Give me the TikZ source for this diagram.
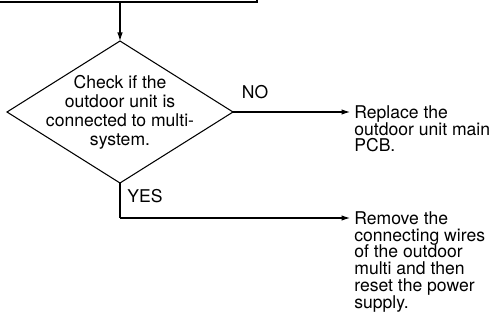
\documentclass[tikz,border=0pt]{standalone}
\usepackage{fontspec}
\setmainfont{TeX Gyre Heros}
\usetikzlibrary{shapes.geometric, arrows.meta, positioning}

\begin{document}
\begin{tikzpicture}[
    decision/.style={inner sep=0pt, align=center,
                     font=\fontsize{10}{10.8}\selectfont},
    outcome/.style={anchor=north west, inner sep=0pt, align=left,
                    font=\fontsize{10}{9.6}\selectfont},
    edge/.style={line width=0.6pt},
    flow/.style={edge, -{Latex[length=1.7mm, width=1.1mm]}},
    lbl/.style={font=\fontsize{10}{12}\selectfont, inner sep=0pt},
]
\useasboundingbox (0, 0) rectangle (10, -6.44);
\clip (0, 0) rectangle (10, -6.44);

%% Caja anterior (solo se ve el borde inferior)
\node[draw, line width=0.9pt, minimum width=5.44cm, minimum height=1cm,
      inner sep=0pt] at (2.42, 0.46) (prev) {};

%% Decision (rombo dibujado aparte, el texto sobresale de la forma)
\node[decision] at (2.4, -2.24) (chk)
    {Check if the\\outdoor unit is\\connected to multi-\\system.};
\coordinate (top)    at (2.4, -0.82);
\coordinate (right)  at (4.66, -2.24);
\coordinate (bottom) at (2.4, -3.66);
\coordinate (left)   at (0.14, -2.24);
\draw[edge] (top) -- (right) -- (bottom) -- (left) -- cycle;

%% Resultados
\node[outcome] at (7.08, -2.1)  (repl)
    {Replace the\\outdoor unit main\\PCB.};
\node[outcome] at (7.08, -4.22) (rem)
    {Remove the\\connecting wires\\of the outdoor\\multi and then\\reset the power\\supply.};
\coordinate (bend) at (2.4, -4.36);

%% Conexiones
\draw[flow] (prev.south -| top) -- (top);
\draw[flow] (right) -- (right -| 7.0, 0);
\draw[edge] (bottom) -- (bend);
\draw[flow] (bend) -- (bend -| 7.0, 0);
\node[lbl] at (5.1, -1.84)  (no)  {NO};
\node[lbl] at (2.9, -3.92)  (yes) {YES};
\end{tikzpicture}
\end{document}
